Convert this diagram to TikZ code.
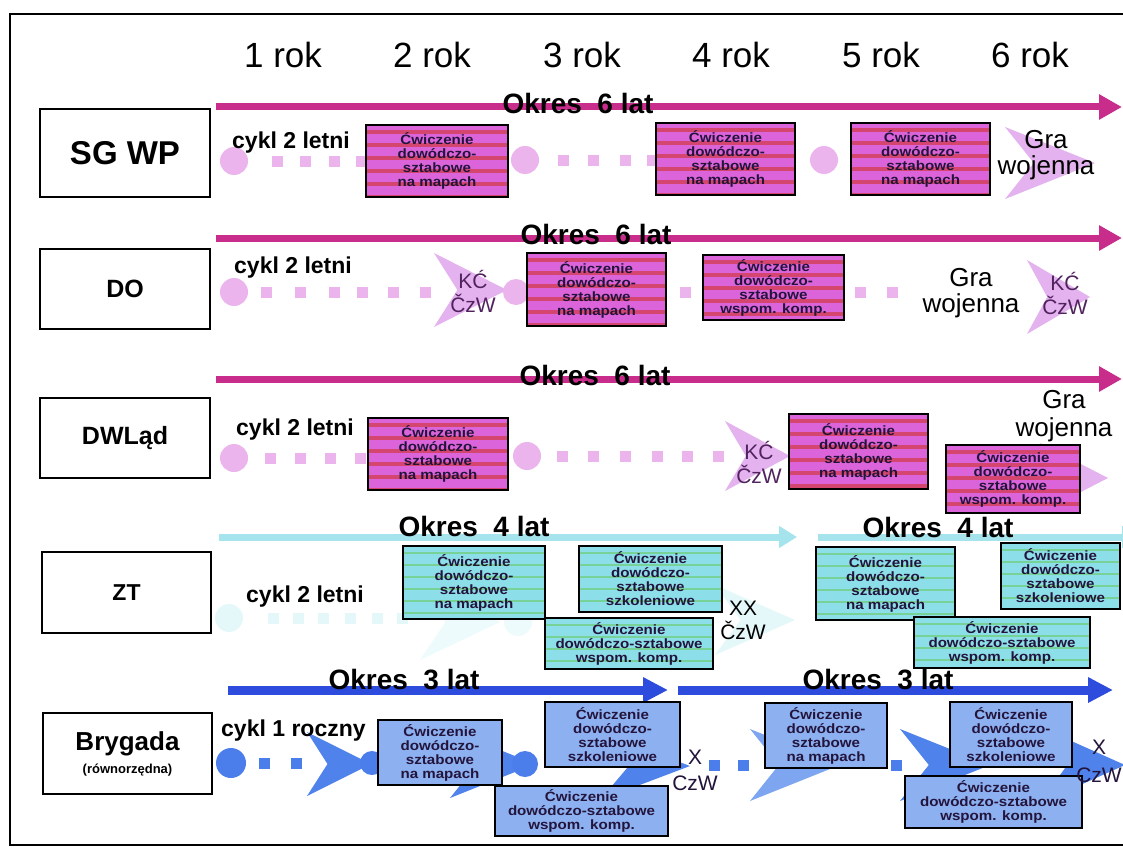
\documentclass[tikz,border=0pt]{standalone}
\usepackage{fontspec}
\setmainfont{Liberation Sans}
\newfontfamily\boxfont{Liberation Sans}[FakeStretch=1.12]
\usetikzlibrary{arrows.meta}

\definecolor{magline}{RGB}{200,45,140}
\definecolor{cyanline}{RGB}{165,228,236}
\definecolor{blueline}{RGB}{45,75,220}
\definecolor{pinkbase}{RGB}{220,100,218}
\definecolor{pinkstripe}{RGB}{212,70,112}
\definecolor{cyanbase}{RGB}{140,222,232}
\definecolor{cyanstripe}{RGB}{118,210,150}
\definecolor{bluebase}{RGB}{140,176,240}
\definecolor{pinkdot}{RGB}{236,180,236}
\definecolor{pinkchev}{RGB}{228,178,238}
\definecolor{cyandot}{RGB}{228,248,250}
\definecolor{cyanfaint}{RGB}{238,251,252}
\definecolor{bluedot}{RGB}{75,125,235}
\definecolor{bluechev}{RGB}{80,130,236}
\definecolor{paleblue}{RGB}{125,165,240}
\definecolor{boxtext}{RGB}{35,20,60}
\definecolor{kctext}{RGB}{80,35,95}

% texts of the exercise boxes
\newcommand\txmap{Ćwiczenie\\dowódczo-\\sztabowe\\na mapach}
\newcommand\txszk{Ćwiczenie\\dowódczo-\\sztabowe\\szkoleniowe}
\newcommand\txwsp{Ćwiczenie\\dowódczo-\\sztabowe\\wspom. komp.}
\newcommand\txwide{Ćwiczenie\\dowódczo-sztabowe\\wspom. komp.}

% row of small squares: colour, y, list of x
\newcommand\sqdots[3]{\foreach \sx in {#3} \fill[#1] ({\sx-5.5},{#2-5.5}) rectangle ++(11,11);}
% notched arrow shape: colour, back x, tip x, centre y, half height
\newcommand\notchtip[5]{\fill[#1] (#2,{#4-#5}) -- (#3,#4) -- (#2,{#4+#5}) -- ({#2+0.32*(#3-#2)},#4) -- cycle;}

\begin{document}
\begin{tikzpicture}[x=1pt,y=-1pt,
  yearlbl/.style={font=\fontsize{35}{35}\selectfont, inner sep=0pt},
  period/.style={font=\fontsize{28}{28}\selectfont\bfseries, inner sep=0pt},
  cyclelbl/.style={font=\fontsize{23}{23}\selectfont\bfseries, inner sep=0pt},
  unit/.style={draw=black, line width=2.5pt, fill=white, inner sep=0pt, align=center,
    minimum width=170pt, minimum height=81pt},
  act/.style={draw=black, line width=1.8pt, inner sep=0pt, align=center, text=boxtext,
    font=\boxfont\bfseries\fontsize{13.5}{14}\selectfont},
  pinkact/.style={act, fill=pinkbase,
    path picture={\foreach \k in {0,...,6}
      \fill[pinkstripe] ([yshift={-\k*13pt-5pt}]path picture bounding box.north west)
        rectangle ([yshift={-\k*13pt-8.5pt}]path picture bounding box.north east);}},
  cyanact/.style={act, fill=cyanbase,
    path picture={\foreach \k in {0,...,6}
      \fill[cyanstripe] ([yshift={-\k*12pt-6pt}]path picture bounding box.north west)
        rectangle ([yshift={-\k*12pt-7.6pt}]path picture bounding box.north east);}},
  blueact/.style={act, fill=bluebase},
  gra/.style={font=\fontsize{26}{26}\selectfont, inner sep=0pt, align=center},
  kc/.style={font=\fontsize{21}{24}\selectfont, inner sep=0pt, align=center, text=kctext},
  magarrow/.style={draw=magline, line width=7pt, -{Triangle[length=23pt,width=24pt]}},
  cyanarrow/.style={draw=cyanline, line width=7pt, -{Triangle[length=18pt,width=21pt]}},
  bluearrow/.style={draw=blueline, line width=9pt, -{Triangle[length=25pt,width=24pt]}}
]
\useasboundingbox (0,0) rectangle (1123,848);
\clip (0,0) rectangle (1123,848);
\fill[white] (0,0) rectangle (1123,848);
\draw[line width=2.5pt] (10,14) rectangle (1150,845);

% years
\node[yearlbl] (y1) at (283,55) {1 rok};
\node[yearlbl] (y2) at (432,55) {2 rok};
\node[yearlbl] (y3) at (582,55) {3 rok};
\node[yearlbl] (y4) at (731,55) {4 rok};
\node[yearlbl] (y5) at (881,55) {5 rok};
\node[yearlbl] (y6) at (1030,55) {6 rok};

% period arrows
\coordinate (p1s) at (216,107); \coordinate (p1e) at (1122,107);
\coordinate (p2s) at (216,238); \coordinate (p2e) at (1122,238);
\coordinate (p3s) at (216,379); \coordinate (p3e) at (1122,379);
\coordinate (p4s) at (219,537); \coordinate (p4e) at (797,537);
\coordinate (p5s) at (818,537); \coordinate (p5e) at (1140,537);
\coordinate (p6s) at (228,690); \coordinate (p6e) at (668,690);
\coordinate (p7s) at (678,690); \coordinate (p7e) at (1113,690);
\draw[magarrow] (p1s) -- (p1e);
\draw[magarrow] (p2s) -- (p2e);
\draw[magarrow] (p3s) -- (p3e);
\draw[cyanarrow] (p4s) -- (p4e);
\draw[cyanarrow] (p5s) -- (p5e);
\draw[bluearrow] (p6s) -- (p6e);
\draw[bluearrow] (p7s) -- (p7e);

\node[period] (o1) at (578,103) {Okres~~6 lat};
\node[period] (o2) at (596,234) {Okres~~6 lat};
\node[period] (o3) at (595,375) {Okres~~6 lat};
\node[period] (o4) at (474,526) {Okres~~4 lat};
\node[period] (o5) at (938,527) {Okres~~4 lat};
\node[period] (o6) at (404,680) {Okres~~3 lat};
\node[period] (o7) at (878,680) {Okres~~3 lat};

% cycle tracks: SG WP
\fill[pinkdot] (234,161) circle (14pt);
\sqdots{pinkdot}{161}{277,305,334,361}
\fill[pinkdot] (525,160) circle (14pt);
\sqdots{pinkdot}{160}{563,593,625,652}
\fill[pinkdot] (824,160) circle (14pt);
\notchtip{pinkchev}{1005}{1095}{163}{36}

% DO
\fill[pinkdot] (234,292) circle (14pt);
\sqdots{pinkdot}{292}{266,300,334,362,393,425}
\notchtip{pinkchev}{434}{507}{290}{37}
\fill[pinkdot] (516,292) circle (13pt);
\sqdots{pinkdot}{292}{685,860,892}
\notchtip{pinkchev}{1027}{1090}{297}{37}

% DWLąd
\fill[pinkdot] (234,458) circle (14pt);
\sqdots{pinkdot}{458}{270,300,330,360}
\fill[pinkdot] (527,456) circle (14pt);
\sqdots{pinkdot}{456}{562,593,625,657,687,718}
\notchtip{pinkchev}{725}{790}{456}{35}
\notchtip{pinkchev}{1040}{1108}{478}{35}

% ZT
\fill[cyandot] (229,618) circle (14pt);
\sqdots{cyandot}{618}{273,298,323,350,377,402}
\fill[cyanfaint] (518,622) circle (14pt);
\notchtip{cyanfaint}{420}{500}{622}{38}
\notchtip{cyandot}{715}{795}{620}{35}

% Brygada
\fill[bluedot] (231,763) circle (15pt);
\sqdots{bluedot}{763}{264,296}
\notchtip{bluechev}{307}{371}{764}{32}
\fill[bluedot] (372,763) circle (12pt);
\notchtip{bluechev}{450}{535}{764}{34}
\fill[bluedot] (525,764) circle (13pt);
\notchtip{bluechev}{600}{690}{766}{34}
\sqdots{bluedot}{765}{714,743}
\notchtip{paleblue}{750}{840}{765}{36}
\sqdots{bluedot}{765}{896}
\notchtip{bluechev}{900}{990}{765}{36}
\notchtip{bluechev}{1040}{1125}{765}{38}

% cycle labels
\node[cyclelbl, anchor=west] (c1) at (232,143) {cykl 2 letni};
\node[cyclelbl, anchor=west] (c2) at (234,268) {cykl 2 letni};
\node[cyclelbl, anchor=west] (c3) at (236,430) {cykl 2 letni};
\node[cyclelbl, anchor=west] (c4) at (246,597) {cykl 2 letni};
\node[cyclelbl, anchor=west] (c5) at (221,731) {cykl 1 roczny};

% exercises: SG WP
\node[pinkact, minimum width=142pt, minimum height=72pt] (m1a) at (437,161) {\txmap};
\node[pinkact, minimum width=139pt, minimum height=72pt] (m1b) at (725.5,159) {\txmap};
\node[pinkact, minimum width=139pt, minimum height=72pt] (m1c) at (920.5,159) {\txmap};
% DO
\node[pinkact, minimum width=139pt, minimum height=73pt] (m2a) at (596.5,289.5) {\txmap};
\node[pinkact, minimum width=141pt, minimum height=65pt] (m2b) at (773.5,287.5) {\txwsp};
% DWLąd
\node[pinkact, minimum width=140pt, minimum height=72pt] (m3a) at (438,454) {\txmap};
\node[pinkact, minimum width=139pt, minimum height=75pt] (m3b) at (858.5,451.5) {\txmap};
\node[pinkact, minimum width=134pt, minimum height=68pt] (m3c) at (1013,479) {\txwsp};
% ZT
\node[cyanact, minimum width=142pt, minimum height=73pt] (m4a) at (474,582.5) {\txmap};
\node[cyanact, minimum width=143pt, minimum height=66pt] (m4b) at (650.5,579) {\txszk};
\node[cyanact, minimum width=168pt, minimum height=51pt] (m4c) at (629,643.5) {\txwide};
\node[cyanact, minimum width=139pt, minimum height=73pt] (m4d) at (885.5,583.5) {\txmap};
\node[cyanact, minimum width=119pt, minimum height=66pt] (m4e) at (1060.5,576) {\txszk};
\node[cyanact, minimum width=176pt, minimum height=51pt] (m4f) at (1002,642.5) {\txwide};
% Brygada
\node[blueact, minimum width=124pt, minimum height=65pt] (m5a) at (440,752.5) {\txmap};
\node[blueact, minimum width=135pt, minimum height=65pt] (m5b) at (612.5,734.5) {\txszk};
\node[blueact, minimum width=173pt, minimum height=50pt] (m5c) at (581.5,811) {\txwide};
\node[blueact, minimum width=122pt, minimum height=65pt] (m5d) at (826,735.5) {\txmap};
\node[blueact, minimum width=122pt, minimum height=65pt] (m5e) at (1011,734.5) {\txszk};
\node[blueact, minimum width=177pt, minimum height=52pt] (m5f) at (993.5,802) {\txwide};

% war games and checkpoints
\node[gra] (g1) at (1046,155) {Gra\\wojenna};
\node[gra] (g2) at (971,293) {Gra\\wojenna};
\node[gra, font=\fontsize{26}{28}\selectfont] (g3) at (1064,416) {Gra\\wojenna};
\node[kc] (k1) at (473,291) {KĆ\\ČzW};
\node[kc] (k2) at (1065,293) {KĆ\\ČzW};
\node[kc] (k3) at (759,462) {KĆ\\ČzW};
\node[kc, text=black] (k4) at (743,620) {XX\\ČzW};
\node[kc, text=boxtext, font=\fontsize{21}{26}\selectfont] (k5) at (695,770) {X\\CzW};
\node[kc, text=boxtext, font=\fontsize{21}{28}\selectfont] (k6) at (1099,761) {X\\CzW};

% command levels
\node[unit, minimum height=88pt, font=\fontsize{33}{33}\selectfont\bfseries] (sgwp) at (125,153) {SG WP};
\node[unit, minimum height=80pt, font=\fontsize{25}{25}\selectfont\bfseries] (do) at (125,289) {DO};
\node[unit, minimum height=80pt, font=\fontsize{25}{25}\selectfont\bfseries] (dwl) at (125,438) {DWLąd};
\node[unit, minimum width=169pt, font=\fontsize{23}{23}\selectfont\bfseries] (zt) at (126.5,592.5) {ZT};
\node[unit, minimum width=169pt, font=\fontsize{26}{26}\selectfont\bfseries] (bry) at (127.5,753.5)
  {Brygada\\[-3pt]{\fontsize{13}{13}\selectfont(równorzędna)}};
\end{tikzpicture}
\end{document}
